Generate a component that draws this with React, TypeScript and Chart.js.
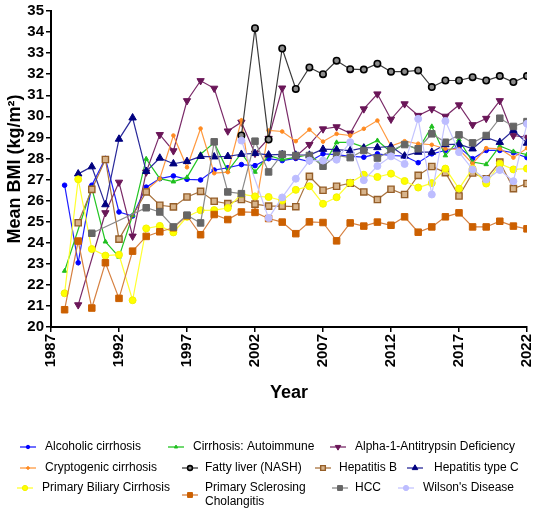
import React, { useEffect, useRef } from 'react';
import { Chart, registerables } from 'chart.js';
import { drawPoint } from 'chart.js/helpers';

Chart.register(...registerables);

const FONT = '"Liberation Sans", Arial, Helvetica, sans-serif';

// ---------- data ----------
const years = [
  1988, 1989, 1990, 1991, 1992, 1993, 1994, 1995, 1996, 1997, 1998, 1999,
  2000, 2001, 2002, 2003, 2004, 2005, 2006, 2007, 2008, 2009, 2010, 2011,
  2012, 2013, 2014, 2015, 2016, 2017, 2018, 2019, 2020, 2021, 2022,
];
const xTickYears = [1987, 1992, 1997, 2002, 2007, 2012, 2017, 2022];

const alcoholic = [
  26.73, 23.05, 26.73, 28.0, 25.46, 25.27, 26.64, 27.04, 27.17, 27.01, 26.98, 27.45,
  27.56, 27.71, 27.66, 27.99, 27.9, 28.0, 27.85, 28.22, 28.18, 28.1, 28.06, 28.22,
  28.14, 28.11, 27.8, 28.22, 28.38, 28.54, 27.99, 28.38, 28.38, 28.27, 28.04,
];
const autoimmune = [
  22.66, null, 26.6, 24.05, 23.33, 25.3, 27.98, 27.04, 26.9, 27.1, 28.2, 28.75,
  27.4, 28.25, 27.36, 28.14, 27.95, 28.05, 28.19, 27.65, 28.76, 28.76, 28.54, 28.85,
  28.3, 28.7, 28.41, 29.52, 28.14, 28.89, 27.83, 27.72, 28.59, 28.33, 28.18,
];
const alpha1 = [
  null, 21.05, null, 25.42, 26.87, 24.31, 27.35, 29.13, 28.36, 30.74, 31.69, 31.33,
  29.3, 29.72, 28.24, 28.95, 31.34, 28.1, 28.66, 29.4, 29.5, 29.2, 30.35, 31.06,
  29.86, 30.59, 30.04, 30.35, 30.0, 30.54, 29.6, 29.9, 30.74, 29.09, 29.0,
];
const cryptogenic = [
  null, null, null, null, null, null, 26.49, 27.04, 29.09, 27.58, 29.42, 27.3,
  27.35, 29.81, 25.5, 29.33, 29.28, 28.82, 29.37, 28.8, 29.17, 29.09, 29.41, 29.8,
  28.59, 28.82, 28.7, 28.65, 28.46, 28.43, 27.75, 28.49, 28.46, 28.04, 28.49,
];
const nash = [
  null, null, null, null, null, null, null, null, null, null, null, null,
  null, 29.09, 34.18, 28.9, 33.22, 31.3, 32.32, 32.0, 32.64, 32.24, 32.22, 32.5,
  32.12, 32.12, 32.18, 31.39, 31.7, 31.7, 31.86, 31.7, 31.91, 31.63, 31.91,
];
const hepatitisB = [
  null, 24.95, 26.53, 27.95, 24.17, null, 26.41, 25.78, 25.7, 26.17, 26.44, 25.97,
  25.86, 26.05, 25.83, 25.74, 25.74, 25.71, 27.15, 26.49, 26.68, 26.83, 26.41, 26.05,
  26.54, 26.29, 27.2, 27.62, 27.33, 26.22, 27.31, 27.04, 27.83, 26.57, 26.81,
];
const hepatitisC = [
  null, 27.27, 27.61, 25.81, 28.92, 29.93, 27.39, 28.02, 27.75, 27.86, 28.1, 28.08,
  28.1, 28.2, 28.24, 28.17, 28.19, 28.16, 28.16, 28.44, 28.42, 28.37, 28.5, 28.52,
  28.57, 28.12, 28.3, 28.3, 28.66, 28.68, 28.46, 29.0, 28.77, 29.34, 28.73,
];
const pbc = [
  21.6, 27.01, 23.7, 23.39, 23.43, 21.27, 24.68, 24.8, 24.49, 25.23, 25.54, 25.55,
  25.65, 26.31, 26.2, 26.17, 26.0, 26.51, 26.68, 25.85, 26.16, 26.85, 27.23, 27.12,
  27.28, 26.93, 26.62, 26.83, 27.52, 26.57, 27.52, 26.81, 27.75, 27.48, 27.52,
];
const psc = [
  20.82, 24.08, 20.9, 23.05, 21.36, 23.6, 24.3, 24.52, 24.71, 25.28, 24.38, 25.34,
  25.1, 25.46, 25.44, 25.15, 24.98, 24.43, 24.99, 24.96, 24.09, 24.94, 24.79, 24.98,
  24.83, 25.23, 24.5, 24.75, 25.23, 25.42, 24.75, 24.75, 25.02, 24.79, 24.66,
];
const hcc = [
  null, null, 24.45, null, null, null, 25.66, 25.46, 24.75, 25.31, 24.94, 28.79,
  26.41, 26.33, 28.82, 27.36, 28.2, 28.14, 28.14, 27.63, 28.14, 28.04, 28.38, 28.02,
  28.38, 28.66, 28.46, 29.17, 28.77, 29.12, 28.74, 29.09, 29.91, 29.52, 29.75,
];
const wilson = [
  null, null, null, null, null, null, null, null, null, null, null, null,
  null, 28.85, null, 25.17, 26.15, 27.04, 27.9, 27.9, 27.94, 28.77, 26.97, 27.64,
  28.1, 27.74, 29.88, 26.29, 29.78, 28.3, 27.48, 27.0, 27.45, 26.92, 29.65,
];

const seriesNames = [
  'Alcoholic cirrhosis',
  'Cirrhosis: Autoimmune',
  'Alpha-1-Antitrypsin Deficiency',
  'Cryptogenic cirrhosis',
  'Fatty liver (NASH)',
  'Hepatitis B',
  'Hepatitis type C',
  'Primary Biliary Cirrhosis',
  'Primary Sclerosing Cholangitis',
  'HCC',
  "Wilson's Disease",
];
const seriesValues = [
  alcoholic, autoimmune, alpha1, cryptogenic, nash, hepatitisB,
  hepatitisC, pbc, psc, hcc, wilson,
];

// ---------- styles ----------
const styles = [
  { line: '#1f1fff', fill: '#0000ff', border: '#0000ff', pointStyle: 'circle', radius: 2.3, rot: 0, bw: 1 },
  { line: '#22c522', fill: '#1fbf1f', border: '#1fbf1f', pointStyle: 'triangle', radius: 2.6, rot: 0, bw: 1 },
  { line: '#7a2a68', fill: '#6a1658', border: '#6a1658', pointStyle: 'triangle', radius: 4.2, rot: 180, bw: 1 },
  { line: '#ff9a40', fill: '#ff8a20', border: '#ff8a20', pointStyle: 'circle', radius: 1.8, rot: 0, bw: 1 },
  { line: '#3a3a3a', fill: '#8c8c8c', border: '#000000', pointStyle: 'circle', radius: 3.2, rot: 0, bw: 1.6 },
  { line: '#a9733e', fill: '#d7b48c', border: '#955e28', pointStyle: 'rect', radius: 4.4, rot: 0, bw: 1.4 },
  { line: '#2a2a9a', fill: '#00007f', border: '#00007f', pointStyle: 'triangle', radius: 4.3, rot: 0, bw: 1 },
  { line: '#ffff30', fill: '#ffff00', border: '#f2f200', pointStyle: 'circle', radius: 3.5, rot: 0, bw: 1 },
  { line: '#d68040', fill: '#cc6000', border: '#cc6000', pointStyle: 'rect', radius: 4.6, rot: 0, bw: 1 },
  { line: '#8a8a8a', fill: '#666666', border: '#666666', pointStyle: 'rect', radius: 4.6, rot: 0, bw: 1 },
  { line: '#c4c4ff', fill: '#bdbdff', border: '#bdbdff', pointStyle: 'circle', radius: 3.5, rot: 0, bw: 1 },
];

// legend slot layout: [lineStartX, markerY, textX, textLines]
const legendSlots = [
  { x: 20, y: 447, tx: 45, lines: ['Alcoholic cirrhosis'] },
  { x: 168, y: 447, tx: 193, lines: ['Cirrhosis: Autoimmune'] },
  { x: 330, y: 447, tx: 355, lines: ['Alpha-1-Antitrypsin Deficiency'] },
  { x: 20, y: 468, tx: 45, lines: ['Cryptogenic cirrhosis'] },
  { x: 182, y: 468, tx: 205, lines: ['Fatty liver (NASH)'] },
  { x: 315, y: 468, tx: 339, lines: ['Hepatitis B'] },
  { x: 407, y: 468, tx: 434, lines: ['Hepatitis type C'] },
  { x: 17, y: 488, tx: 42, lines: ['Primary Biliary Cirrhosis'] },
  { x: 182, y: 495, tx: 205, lines: ['Primary Sclerosing', 'Cholangitis'] },
  { x: 332, y: 488, tx: 355, lines: ['HCC'] },
  { x: 398, y: 488, tx: 423, lines: ["Wilson's Disease"] },
];

const overlayPlugin = {
  id: 'overlayPlugin',
  afterDraw(chart: any) {
    const ctx = chart.ctx as CanvasRenderingContext2D;
    const area = chart.chartArea;
    ctx.save();
    ctx.fillStyle = '#000';
    ctx.font = `bold 18px ${FONT}`;
    ctx.textAlign = 'center';
    ctx.textBaseline = 'middle';
    ctx.fillText('Year', (area.left + area.right) / 2, 393);

    legendSlots.forEach((slot, i) => {
      const st = styles[i];
      ctx.strokeStyle = st.line;
      ctx.lineWidth = 1.3;
      ctx.beginPath();
      ctx.moveTo(slot.x, slot.y);
      ctx.lineTo(slot.x + 16, slot.y);
      ctx.stroke();
      ctx.fillStyle = st.fill;
      ctx.strokeStyle = st.border;
      ctx.lineWidth = st.bw;
      drawPoint(ctx, {
        pointStyle: st.pointStyle as any,
        rotation: st.rot,
        radius: st.radius * 0.75,
        borderWidth: st.bw,
      } as any, slot.x + 8, slot.y);
      ctx.fillStyle = '#000';
      ctx.font = `12px ${FONT}`;
      ctx.textAlign = 'left';
      ctx.textBaseline = 'middle';
      const n = slot.lines.length;
      slot.lines.forEach((t, k) => {
        ctx.fillText(t, slot.tx, slot.y + (k - (n - 1) / 2) * 14);
      });
    });
    ctx.restore();
  },
};

export default function App() {
  const canvasRef = useRef<HTMLCanvasElement | null>(null);

  useEffect(() => {
    if (!canvasRef.current) return;
    Chart.defaults.font.family = FONT;
    const datasets = seriesNames.map((name, i) => {
      const st = styles[i];
      return {
        label: name,
        data: years.map((yr, k) => ({ x: yr, y: seriesValues[i][k] })),
        borderColor: st.line,
        backgroundColor: st.fill,
        borderWidth: 1.2,
        pointStyle: st.pointStyle,
        pointRotation: st.rot,
        pointRadius: st.radius,
        pointBackgroundColor: st.fill,
        pointBorderColor: st.border,
        pointBorderWidth: st.bw,
        tension: 0,
        spanGaps: true,
        order: seriesNames.length - i,
      };
    });

    const chart = new Chart(canvasRef.current, {
      type: 'line',
      data: { datasets: datasets as any },
      options: {
        responsive: false,
        animation: false,
        devicePixelRatio: 1,
        layout: { padding: { left: 0, right: 23, top: 10, bottom: 0 } },
        plugins: {
          legend: { display: false },
          tooltip: { enabled: false },
        },
        scales: {
          x: {
            type: 'linear',
            min: 1987,
            max: 2022,
            afterBuildTicks: (axis: any) => {
              axis.ticks = xTickYears.map((v) => ({ value: v }));
            },
            afterFit: (scale: any) => {
              scale.height = 187;
            },
            ticks: {
              minRotation: 90,
              maxRotation: 90,
              autoSkip: false,
              padding: 2,
              color: '#000',
              font: { size: 15, weight: 'bold' },
              callback: (v: any) => String(v),
            },
            grid: {
              drawOnChartArea: false,
              drawTicks: true,
              tickLength: 5,
              color: '#000',
              lineWidth: 1.5,
            },
            border: { display: true, color: '#000', width: 2 },
          },
          y: {
            min: 20,
            max: 35,
            afterFit: (scale: any) => {
              scale.width = 51;
            },
            ticks: {
              stepSize: 1,
              padding: 2,
              color: '#000',
              font: { size: 15, weight: 'bold' },
              callback: (v: any) => String(v),
            },
            title: {
              display: true,
              text: 'Mean BMI (kg/m²)',
              color: '#000',
              font: { size: 18, weight: 'bold' },
              padding: { top: 4, bottom: 0 },
            },
            grid: {
              drawOnChartArea: false,
              drawTicks: true,
              tickLength: 5,
              color: '#000',
              lineWidth: 1.5,
            },
            border: { display: true, color: '#000', width: 2 },
          },
        },
      },
      plugins: [overlayPlugin],
    });
    return () => chart.destroy();
  }, []);

  return (
    <div style={{ position: 'absolute', left: 0, top: 0, width: 550, height: 514, background: '#fff' }}>
      <canvas ref={canvasRef} width={550} height={514} style={{ display: 'block' }} />
    </div>
  );
}
